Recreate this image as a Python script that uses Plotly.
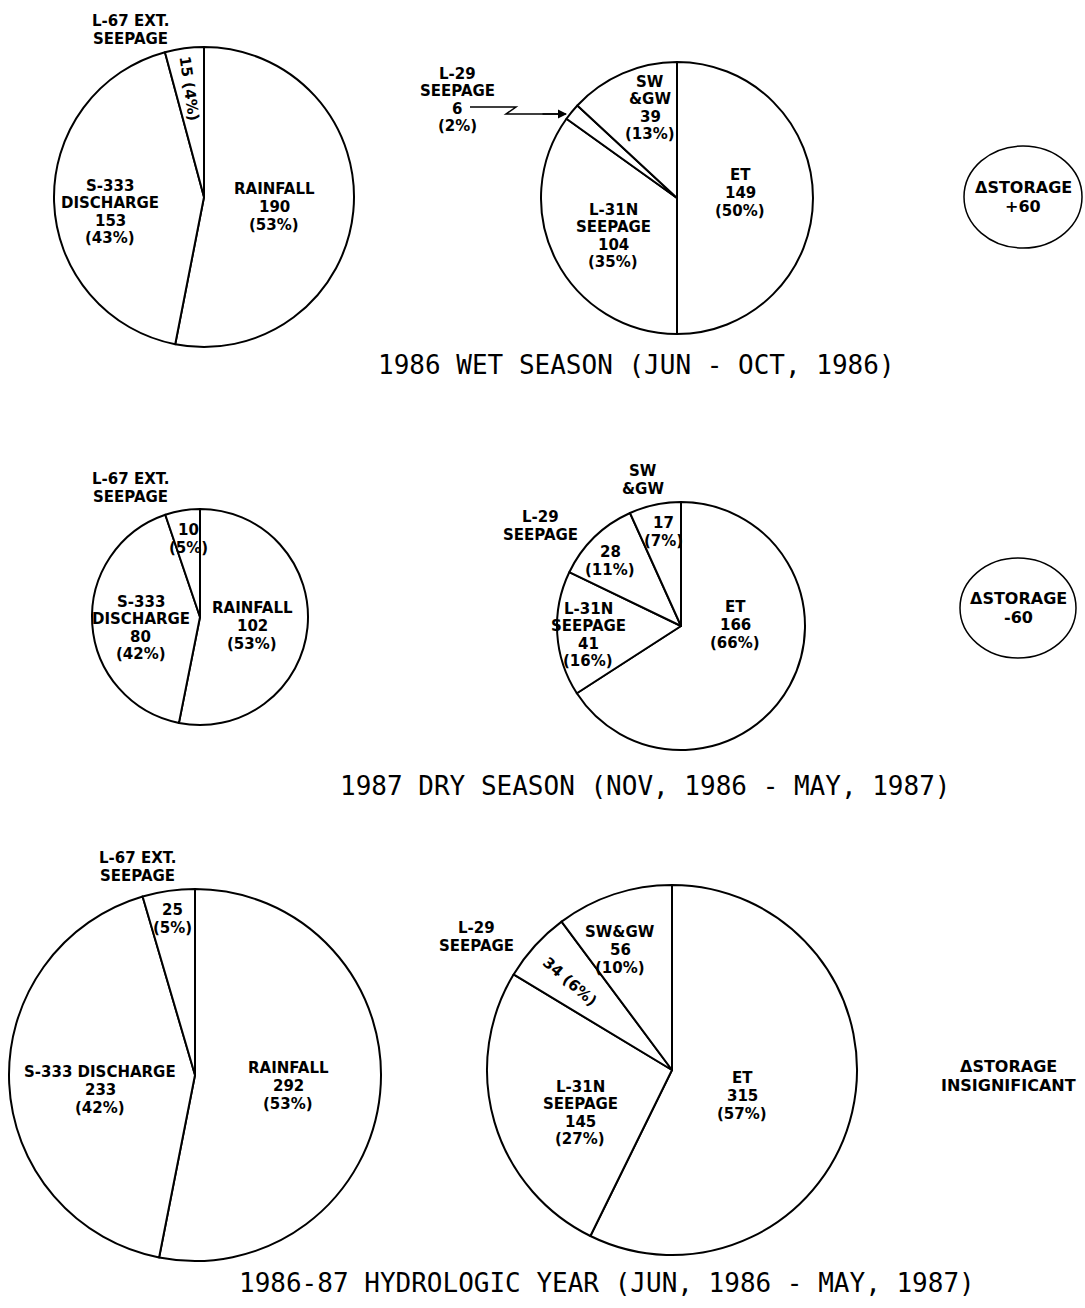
import plotly.graph_objects as go

W, H = 1085, 1308

# ---- water budget components (1000 acre-ft) ----
# 1986 wet season
WET_IN_NAMES = ["RAINFALL", "S-333\nDISCHARGE", "L-67 EXT.\nSEEPAGE"]
WET_IN_VALUES = [190, 153, 15]
WET_IN_PCT = [53, 43, 4]

WET_OUT_NAMES = ["ET", "L-31N\nSEEPAGE", "L-29\nSEEPAGE", "SW\n&GW"]
WET_OUT_VALUES = [149, 104, 6, 39]
WET_OUT_PCT = [50, 35, 2, 13]
WET_STORAGE = "+60"

# 1987 dry season
DRY_IN_NAMES = ["RAINFALL", "S-333\nDISCHARGE", "L-67 EXT.\nSEEPAGE"]
DRY_IN_VALUES = [102, 80, 10]
DRY_IN_PCT = [53, 42, 5]

DRY_OUT_NAMES = ["ET", "L-31N\nSEEPAGE", "L-29\nSEEPAGE", "SW\n&GW"]
DRY_OUT_VALUES = [166, 41, 28, 17]
DRY_OUT_PCT = [66, 16, 11, 7]
DRY_STORAGE = "-60"

# 1986-87 hydrologic year
YEAR_IN_NAMES = ["RAINFALL", "S-333 DISCHARGE", "L-67 EXT.\nSEEPAGE"]
YEAR_IN_VALUES = [292, 233, 25]
YEAR_IN_PCT = [53, 42, 5]

YEAR_OUT_NAMES = ["ET", "L-31N\nSEEPAGE", "L-29\nSEEPAGE", "SW&GW"]
YEAR_OUT_VALUES = [315, 145, 34, 56]
YEAR_OUT_PCT = [57, 27, 6, 10]
YEAR_STORAGE = "INSIGNIFICANT"

TITLES = [
    "1986 WET SEASON (JUN - OCT, 1986)",
    "1987 DRY SEASON (NOV, 1986 - MAY, 1987)",
    "1986-87 HYDROLOGIC YEAR (JUN, 1986 - MAY, 1987)",
]

LABEL_FONT = "DejaVu Sans"
TITLE_FONT = "DejaVu Sans Mono"
LABEL_SIZE = 15
LINE_STEP = 17.6


def px(x):
    return x / W


def py(y):
    return 1 - y / H


annotations = []
shapes = []


def add_lines(lines, cx, cy, size=LABEL_SIZE, spacing=LINE_STEP, angle=0,
              family=LABEL_FONT, bold=True):
    n = len(lines)
    for i, line in enumerate(lines):
        y = cy + (i - (n - 1) / 2) * spacing
        annotations.append(dict(
            text=f"<b>{line}</b>" if bold else line,
            x=px(cx), y=py(y), xref="paper", yref="paper",
            showarrow=False, xanchor="center", yanchor="middle",
            textangle=angle, borderpad=0,
            font=dict(family=family, size=size, color="black"),
        ))


def slice_label(kind, name, value, pct, cx, cy, angle=0):
    name_lines = name.split("\n")
    num_lines = [str(value), f"({pct}%)"]
    if kind == "all":
        add_lines(name_lines + num_lines, cx, cy)
    elif kind == "name":
        add_lines(name_lines, cx, cy)
    elif kind == "num":
        add_lines(num_lines, cx, cy)
    elif kind == "inline":
        add_lines([f"{value} ({pct}%)"], cx, cy, angle=angle)


def pie_trace(names, values, cx, cy, r):
    return go.Pie(
        labels=[n.replace("\n", " ") for n in names],
        values=values,
        domain=dict(x=[px(cx - r), px(cx + r)], y=[py(cy + r), py(cy - r)]),
        sort=False,
        direction="clockwise",
        rotation=0,
        marker=dict(colors=["white"] * len(values), line=dict(color="black", width=2)),
        textinfo="none",
        hoverinfo="skip",
        showlegend=False,
    )


# pie definitions: data, centre/radius and label placement per slice
PIES = [
    dict(names=WET_IN_NAMES, values=WET_IN_VALUES, pct=WET_IN_PCT, c=(204, 197), r=150,
         labels=[[("all", 274, 207)],
                 [("all", 110, 212)],
                 [("name", 130, 30), ("inline", 189, 88, 82)]]),
    dict(names=WET_OUT_NAMES, values=WET_OUT_VALUES, pct=WET_OUT_PCT, c=(677, 198), r=136,
         labels=[[("all", 740, 193)],
                 [("all", 613, 236)],
                 [("all", 457, 100)],
                 [("all", 650, 108)]]),
    dict(names=DRY_IN_NAMES, values=DRY_IN_VALUES, pct=DRY_IN_PCT, c=(200, 617), r=108,
         labels=[[("all", 252, 626)],
                 [("all", 141, 628)],
                 [("name", 130, 488), ("num", 188, 539)]]),
    dict(names=DRY_OUT_NAMES, values=DRY_OUT_VALUES, pct=DRY_OUT_PCT, c=(681, 626), r=124,
         labels=[[("all", 735, 625)],
                 [("all", 588, 635)],
                 [("name", 540, 526), ("num", 610, 561)],
                 [("name", 643, 480), ("num", 663, 532)]]),
    dict(names=YEAR_IN_NAMES, values=YEAR_IN_VALUES, pct=YEAR_IN_PCT, c=(195, 1075), r=186,
         labels=[[("all", 288, 1086)],
                 [("all", 100, 1090)],
                 [("name", 137, 867), ("num", 172, 919)]]),
    dict(names=YEAR_OUT_NAMES, values=YEAR_OUT_VALUES, pct=YEAR_OUT_PCT, c=(672, 1070), r=185,
         labels=[[("all", 742, 1096)],
                 [("all", 580, 1113)],
                 [("name", 477, 937), ("inline", 570, 982, 41)],
                 [("all", 620, 950)]]),
]

fig = go.Figure()
for p in PIES:
    cx, cy = p["c"]
    fig.add_trace(pie_trace(p["names"], p["values"], cx, cy, p["r"]))
    for i, specs in enumerate(p["labels"]):
        for spec in specs:
            kind, lx, ly = spec[:3]
            angle = spec[3] if len(spec) > 3 else 0
            slice_label(kind, p["names"][i], p["values"][i], p["pct"][i], lx, ly, angle)

# leader from the small L-29 wet-season label to its slice
leader = [(470, 107), (516, 107), (506, 114), (566, 114)]
path = "M " + " L ".join(f"{px(x):.5f},{py(y):.5f}" for x, y in leader)
shapes.append(dict(type="path", path=path, xref="paper", yref="paper",
                   line=dict(color="black", width=1.5)))
annotations.append(dict(x=px(567), y=py(114), xref="paper", yref="paper", text="",
                        showarrow=True, ax=-26, ay=0, arrowhead=2, arrowsize=1.2,
                        arrowwidth=1.5, arrowcolor="black"))

# storage change circles
for (cx, cy, rx, ry, val, circ) in [(1023, 197, 59, 51, WET_STORAGE, True),
                                    (1018, 608, 58, 50, DRY_STORAGE, True),
                                    (1008, 1076, 0, 0, YEAR_STORAGE, False)]:
    if circ:
        shapes.append(dict(type="circle", xref="paper", yref="paper",
                           x0=px(cx - rx), x1=px(cx + rx), y0=py(cy + ry), y1=py(cy - ry),
                           line=dict(color="black", width=1.5)))
    add_lines(["\u0394STORAGE", val], cx, cy, size=16, spacing=18.5)

# season titles
for text, (tx, ty) in zip(TITLES, [(636, 365), (645, 786), (607, 1283)]):
    annotations.append(dict(text=text, x=px(tx), y=py(ty), xref="paper", yref="paper",
                            showarrow=False, xanchor="center", yanchor="middle",
                            font=dict(family=TITLE_FONT, size=26, color="black")))

fig.update_layout(
    width=W, height=H, autosize=False,
    margin=dict(l=0, r=0, t=0, b=0),
    paper_bgcolor="white", plot_bgcolor="white",
    annotations=annotations, shapes=shapes,
)

fig.write_html("out.html")
